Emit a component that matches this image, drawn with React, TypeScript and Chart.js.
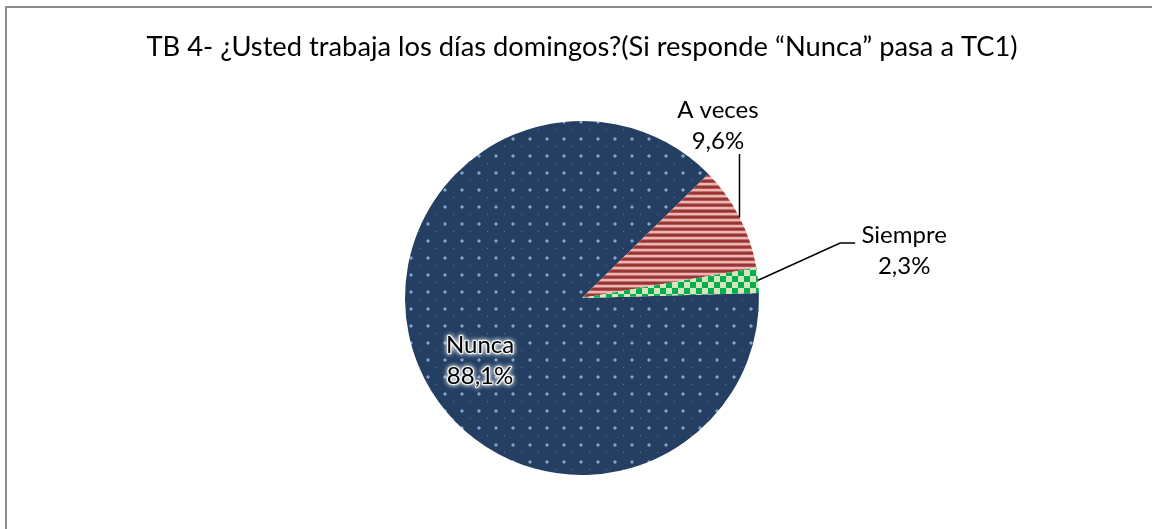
import React, { useEffect, useRef } from "react";
import { Chart, registerables } from "chart.js";

Chart.register(...registerables);

const TITLE = "TB 4- ¿Usted trabaja los días domingos?(Si responde “Nunca” pasa a TC1)";
const categories = ["Nunca", "A veces", "Siempre"];
const values = [88.1, 9.6, 2.3];
const valueLabels = ["88,1%", "9,6%", "2,3%"];

const FONT = "Lato, 'Open Sans', sans-serif";

function makeTile(w: number, h: number, draw: (c: CanvasRenderingContext2D) => void) {
  const cv = document.createElement("canvas");
  cv.width = w;
  cv.height = h;
  const c = cv.getContext("2d")!;
  draw(c);
  return cv;
}

function makePatterns(ctx: CanvasRenderingContext2D) {
  const dots = makeTile(17, 17, (c) => {
    c.fillStyle = "#243f62";
    c.fillRect(0, 0, 17, 17);
    c.fillStyle = "#55789f";
    c.fillRect(1, 2, 4, 2);
    c.fillRect(2, 1, 2, 4);
    c.fillStyle = "#7fa3d8";
    c.fillRect(2, 2, 2, 2);
    c.fillStyle = "#5a7db3";
    c.fillRect(11, 10, 1, 1);
  });
  const stripes = makeTile(6, 6, (c) => {
    const rows = ["#953735", "#953735", "#c0504d", "#e6b9b8", "#e6b9b8", "#c9716e"];
    rows.forEach((col, i) => {
      c.fillStyle = col;
      c.fillRect(0, i, 6, 1);
    });
  });
  const checks = makeTile(12, 12, (c) => {
    c.fillStyle = "#d7e4bd";
    c.fillRect(0, 0, 12, 12);
    c.fillStyle = "#00b050";
    c.fillRect(0, 0, 6, 6);
    c.fillRect(6, 6, 6, 6);
  });
  return [
    ctx.createPattern(dots, "repeat")!,
    ctx.createPattern(stripes, "repeat")!,
    ctx.createPattern(checks, "repeat")!,
  ];
}

// label placement relative to the pie (in units of radius), and leader style
const labelOffsets = [
  { dx: -0.576, base: 0.31, glow: true, leader: "none" },
  { dx: 0.768, base: -1.017, glow: false, leader: "vertical" },
  { dx: 1.82, base: -0.311, glow: false, leader: "elbow" },
];

const overlayPlugin = {
  id: "overlay",
  beforeDraw(chart: any) {
    const ctx = chart.ctx as CanvasRenderingContext2D;
    ctx.save();
    ctx.fillStyle = "#ffffff";
    ctx.fillRect(0, 0, chart.width, chart.height);
    ctx.strokeStyle = "#8c8c8c";
    ctx.lineWidth = 2;
    ctx.beginPath();
    ctx.moveTo(6, chart.height);
    ctx.lineTo(6, 7);
    ctx.lineTo(chart.width - 1, 7);
    ctx.stroke();
    ctx.fillStyle = "#000";
    ctx.font = `27.3px ${FONT}`;
    ctx.textAlign = "center";
    ctx.textBaseline = "alphabetic";
    ctx.fillText(TITLE, 582, 56);
    ctx.restore();
  },
  afterDatasetsDraw(chart: any) {
    const ctx = chart.ctx as CanvasRenderingContext2D;
    const meta = chart.getDatasetMeta(0);
    ctx.save();
    ctx.font = `24px ${FONT}`;
    ctx.textAlign = "center";
    ctx.textBaseline = "alphabetic";
    meta.data.forEach((arc: any, i: number) => {
      const { x, y, outerRadius: r, startAngle, endAngle } = arc.getProps(
        ["x", "y", "outerRadius", "startAngle", "endAngle"],
        true
      );
      const mid = (startAngle + endAngle) / 2;
      const ex = x + r * Math.cos(mid);
      const ey = y + r * Math.sin(mid);
      const o = labelOffsets[i];
      const lx = x + o.dx * r;
      const by = y + o.base * r;
      const lineGap = 31;
      // leader lines
      ctx.strokeStyle = "#000";
      ctx.lineWidth = 1.5;
      if (o.leader === "vertical") {
        ctx.beginPath();
        ctx.moveTo(ex, ey);
        ctx.lineTo(ex, by + lineGap + 5);
        ctx.stroke();
      } else if (o.leader === "elbow") {
        ctx.beginPath();
        ctx.moveTo(ex, ey);
        ctx.lineTo(lx - 64, by);
        ctx.lineTo(lx - 49, by);
        ctx.stroke();
      }
      const lines = [categories[i], valueLabels[i]];
      lines.forEach((t, k) => {
        const ty = by + k * lineGap;
        if (o.glow) {
          ctx.save();
          ctx.shadowColor = "rgba(255,255,255,1)";
          ctx.shadowBlur = 5;
          ctx.strokeStyle = "rgba(255,255,255,0.85)";
          ctx.lineWidth = 2.5;
          ctx.lineJoin = "round";
          ctx.strokeText(t, lx, ty);
          ctx.fillStyle = "#fff";
          ctx.fillText(t, lx, ty);
          ctx.restore();
        }
        ctx.fillStyle = "#000";
        ctx.fillText(t, lx, ty);
      });
    });
    ctx.restore();
  },
};

export default function App() {
  const ref = useRef<HTMLCanvasElement | null>(null);
  useEffect(() => {
    const canvas = ref.current!;
    const ctx = canvas.getContext("2d")!;
    const patterns = makePatterns(ctx);
    const chart = new Chart(canvas, {
      type: "pie",
      data: {
        labels: categories,
        datasets: [
          {
            data: values,
            backgroundColor: patterns as any,
            borderWidth: 0,
            hoverOffset: 0,
          },
        ],
      },
      options: {
        responsive: false,
        animation: false,
        rotation: 88.4,
        layout: { padding: { top: 121, bottom: 54, left: 405, right: 394 } },
        plugins: {
          legend: { display: false },
          title: { display: false },
          tooltip: { enabled: false },
        },
        events: [],
      },
      plugins: [overlayPlugin],
    });
    return () => chart.destroy();
  }, []);
  return (
    <div style={{ position: "fixed", left: 0, top: 0, width: 1153, height: 529 }}>
      <canvas ref={ref} width={1153} height={529} style={{ display: "block" }} />
    </div>
  );
}
